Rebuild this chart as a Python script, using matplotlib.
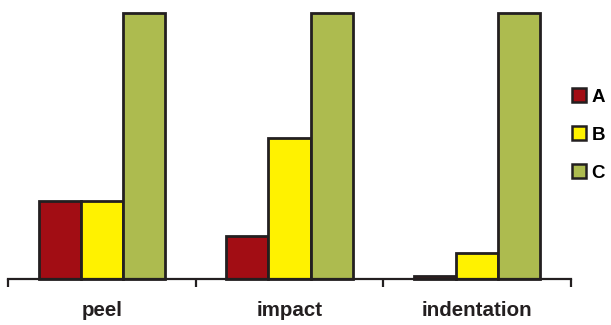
import matplotlib.pyplot as plt
import numpy as np

# 数据
categories = ['peel', 'impact', 'indentation']
series_names = ['A', 'B', 'C']
values_a = [29, 16, 0.8]
values_b = [29, 53, 9.6]
values_c = [100, 100, 100]
colors = ['#a20d14', '#fff200', '#adbb4f']

plt.rcParams['font.family'] = ['Liberation Sans', 'DejaVu Sans']
edge = '#231f20'

fig = plt.figure(figsize=(6.11, 3.25), dpi=100)
ax = fig.add_axes([8 / 611, 0.143, 563 / 611, 0.8185])

x = np.arange(len(categories))
w = 0.2246
for i, (vals, name) in enumerate(zip([values_a, values_b, values_c], series_names)):
    ax.bar(x + (i - 1) * w, vals, width=w, color=colors[i], edgecolor=edge,
           linewidth=2, label=name, clip_on=False, zorder=3)

ax.set_xlim(-0.5, len(categories) - 0.5)
ax.set_ylim(0, 100)

# 坐标轴样式
for s in ['top', 'right', 'left']:
    ax.spines[s].set_visible(False)
ax.spines['bottom'].set_linewidth(1.6)
ax.spines['bottom'].set_color(edge)
ax.spines['bottom'].set_zorder(4)
ax.set_yticks([])
ax.set_xticks(x)
ax.set_xticklabels(categories, fontsize=14.8, fontweight='bold', color='#231f20')
ax.tick_params(axis='x', which='major', length=0, pad=16)
ax.set_xticks(np.arange(-0.5, len(categories)), minor=True)
ax.tick_params(axis='x', which='minor', length=6, width=1.6, color=edge, direction='out')

# 图例
leg = fig.legend(loc='center left', bbox_to_anchor=(555 / 611, 1 - 135 / 325),
                 frameon=False, handlelength=0.75, handleheight=0.75,
                 labelspacing=1.1, handletextpad=0.3,
                 prop={'size': 13.5, 'weight': 'bold'})
for h in leg.legend_handles:
    h.set_linewidth(1.8)

fig.savefig('out.png', dpi=100)
